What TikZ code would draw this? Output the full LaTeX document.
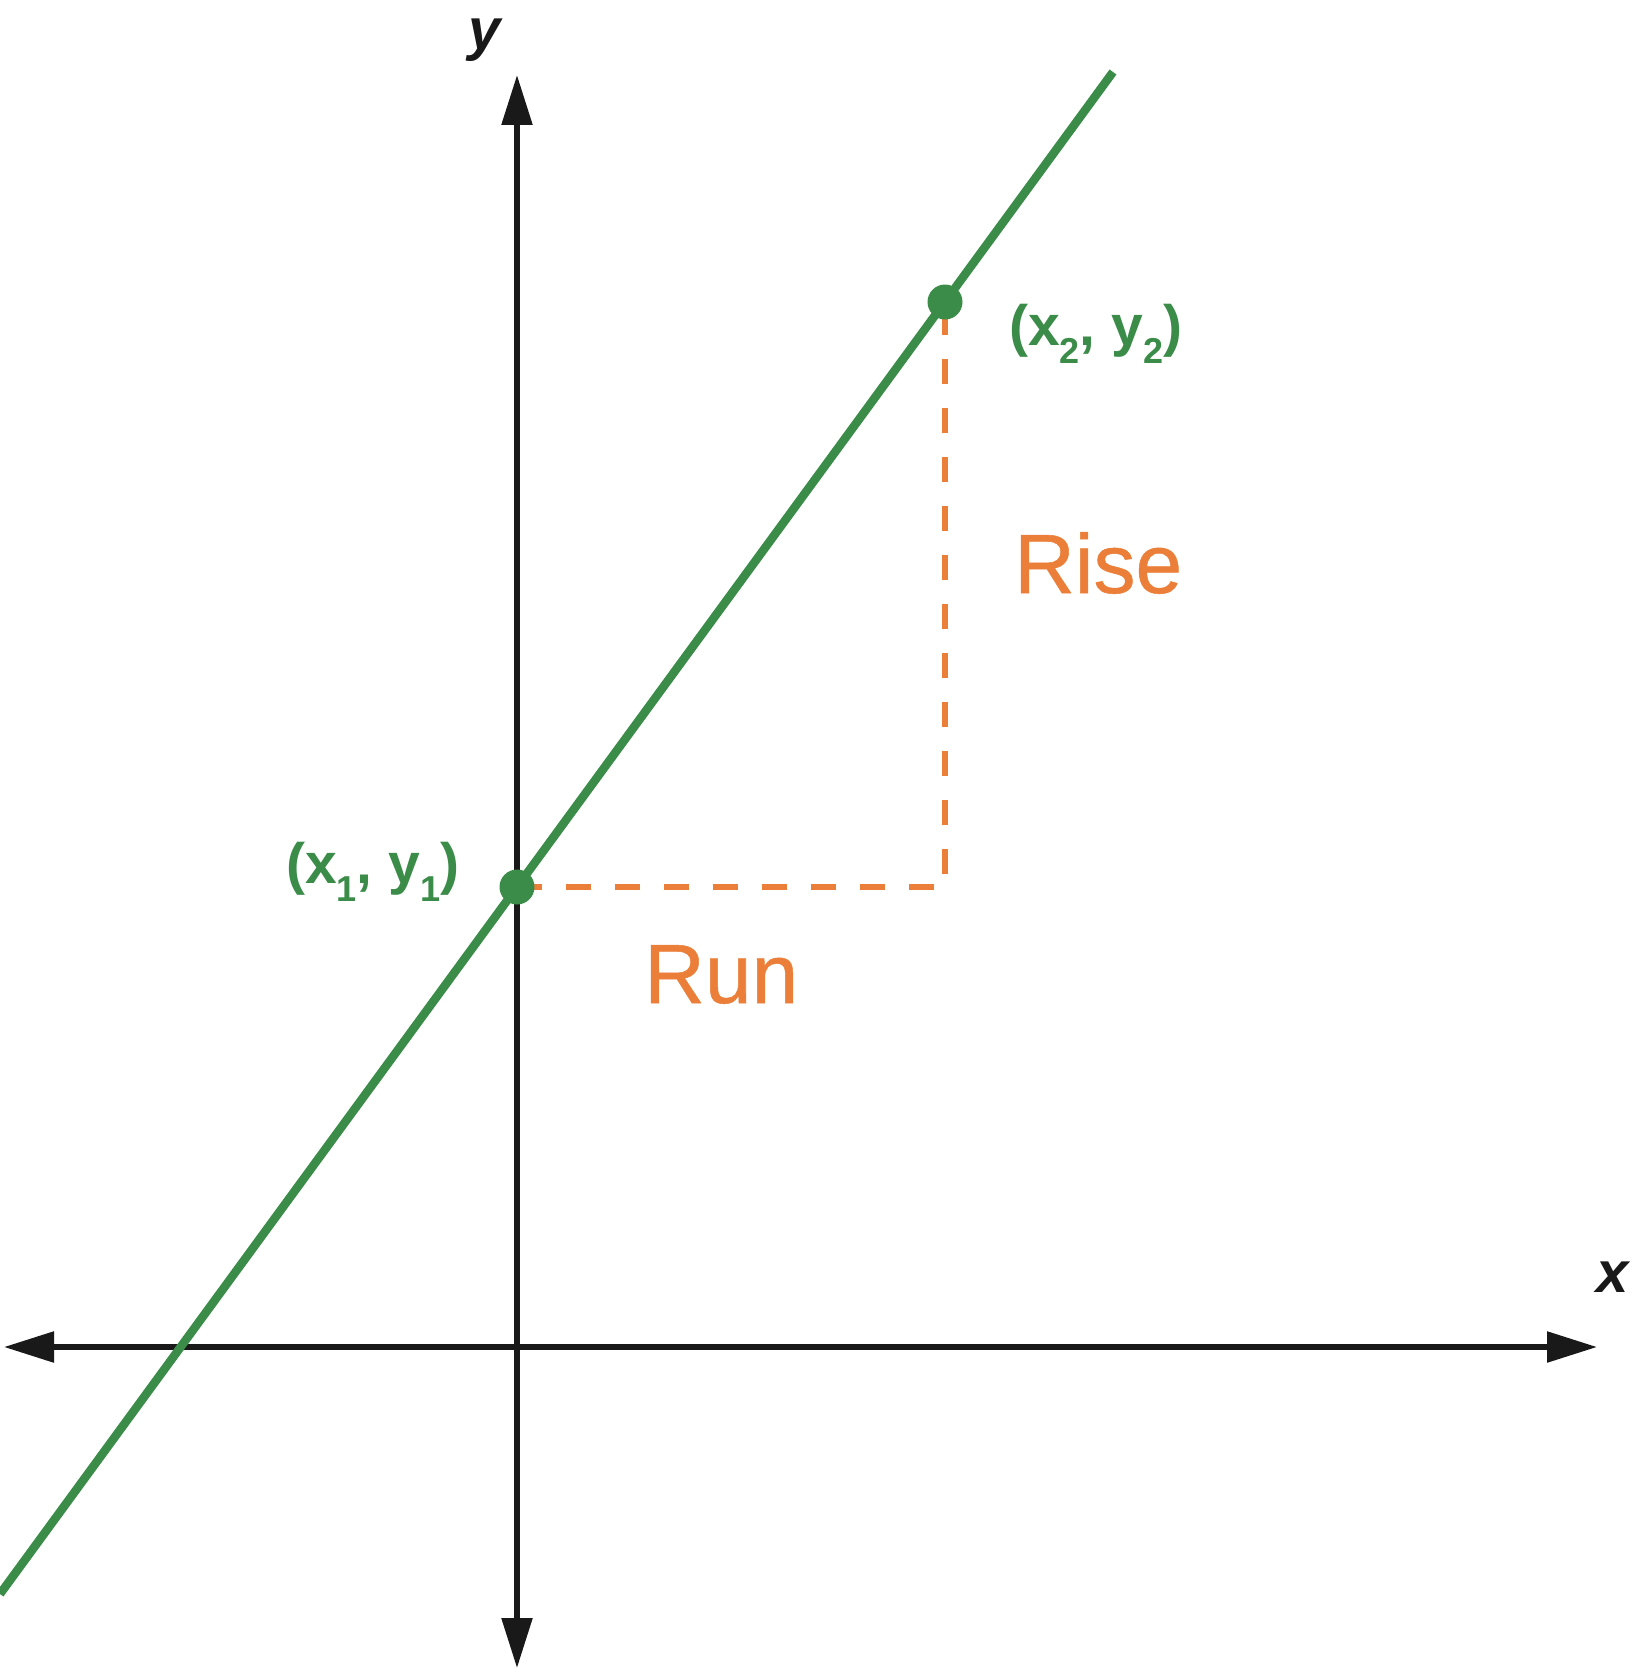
\documentclass[tikz,border=0pt]{standalone}
\usepackage{fontspec}
\setmainfont{Liberation Sans}
\newfontface\rrfont[FakeBold=0.6]{Liberation Sans}
\usetikzlibrary{arrows.meta}
\definecolor{lgreen}{RGB}{58,140,72}
\definecolor{lorange}{RGB}{235,127,57}
\newcommand{\lsub}[1]{\raisebox{-18pt}{\fontsize{36}{36}\selectfont #1}}
\begin{document}
\begin{tikzpicture}[x=1pt,y=-1pt,
  axisline/.style={line width=5.5pt, black!90,
    {Triangle[length=50pt,width=30pt]}-{Triangle[length=50pt,width=30pt]}},
  graphline/.style={line width=8.5pt, lgreen},
  rundash/.style={line width=5.5pt, lorange, dash pattern=on 25pt off 24pt},
  dotnode/.style={circle, fill=lgreen, inner sep=0pt, minimum size=35pt},
  ptlabel/.style={inner sep=0pt, anchor=base west, text=lgreen,
    font=\fontsize{57}{57}\selectfont\bfseries},
  rrlabel/.style={inner sep=0pt, anchor=base west, text=lorange,
    font=\fontsize{84}{84}\rrfont},
  axlabel/.style={inner sep=0pt, anchor=base, text=black!90,
    font=\fontsize{58}{58}\selectfont\bfseries\itshape}]
\useasboundingbox (0,0) rectangle (1632,1672);
% axes
\coordinate (yt) at (517,75);
\coordinate (yb) at (517,1668);
\coordinate (xl) at (4,1347);
\coordinate (xr) at (1597,1347);
\draw[axisline] (yb) -- (yt);
\draw[axisline] (xl) -- (xr);
% green line
\coordinate (gs) at (0,1594);
\coordinate (ge) at (1113,72);
\draw[graphline] (gs) -- (ge);
% rise/run
\coordinate (corner) at (945,887);
\coordinate (c1) at (517,887);
\coordinate (c2) at (945,302);
\draw[rundash] (c1) -- (corner) -- (c2);
\node[dotnode] (p1) at (c1) {};
\node[dotnode] (p2) at (c2) {};
% labels
\node[ptlabel] (l1) at (286,883) {(x\lsub{1}, y\lsub{1})};
\node[ptlabel] (l2) at (1009,345) {(x\lsub{2}, y\lsub{2})};
\node[rrlabel] (rise) at (1014,593) {Rise};
\node[rrlabel] (run) at (644,1003) {Run};
\node[axlabel] (ylab) at (485,50) {y};
\node[axlabel] (xlab) at (1613,1292) {x};
\end{tikzpicture}
\end{document}
